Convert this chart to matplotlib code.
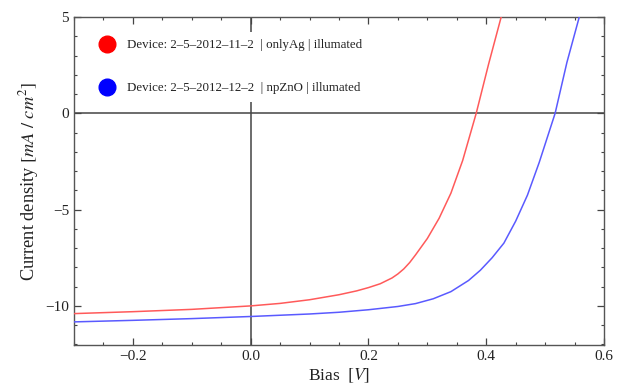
import matplotlib
matplotlib.use("Agg")
import matplotlib.pyplot as plt
from matplotlib.ticker import MultipleLocator, FixedLocator

plt.rcParams['font.family'] = ['Liberation Serif', 'DejaVu Serif']
plt.rcParams['mathtext.fontset'] = 'stix'

# Data
bias_red = [-0.30, -0.20, -0.10, 0.00, 0.05, 0.10, 0.15, 0.18, 0.20, 0.22, 0.24, 0.25, 0.26, 0.27, 0.28, 0.30, 0.32,
            0.34, 0.36, 0.383, 0.404, 0.426]
curr_red = [-10.40, -10.30, -10.18, -10.00, -9.87, -9.68, -9.42, -9.22, -9.05, -8.85, -8.55, -8.34, -8.08, -7.75, -7.35, -6.50, -5.45,
            -4.15, -2.45, 0.00, 2.55, 5.07]

bias_blue = [-0.30, -0.20, -0.10, 0.00, 0.10, 0.15, 0.20, 0.25, 0.28, 0.31, 0.34, 0.37, 0.39, 0.41, 0.43,
             0.45, 0.47, 0.49, 0.517, 0.537, 0.558]
curr_blue = [-10.83, -10.75, -10.66, -10.55, -10.42, -10.33, -10.20, -10.03, -9.88, -9.63, -9.26, -8.68, -8.15, -7.50, -6.74,
             -5.60, -4.25, -2.55, 0.00, 2.64, 5.00]

labels = ["Device: 2\u20135\u20132012\u201311\u20132  | onlyAg | illumated",
          "Device: 2\u20135\u20132012\u201312\u20132  | npZnO | illumated"]
colors = ["#ff5a5a", "#5a5aff"]
marker_colors = ["#ff0000", "#0000ff"]

x_major = [-0.2, 0.0, 0.2, 0.4, 0.6]
x_ticklabels = ["\u22120.2", "0.0", "0.2", "0.4", "0.6"]
y_major = [-10, -5, 0, 5]
y_ticklabels = ["\u221210", "\u22125", "0", "5"]

fig = plt.figure(figsize=(6.19, 3.89), dpi=100)
ax = fig.add_axes([74/619, 1-345/389, 530/619, 328/389])

ax.plot(bias_red, curr_red, color=colors[0], lw=1.1, zorder=3)
ax.plot(bias_blue, curr_blue, color=colors[1], lw=1.1, zorder=3)

ax.axhline(0, color="#444444", lw=1.1, zorder=2)
ax.axvline(0, color="#444444", lw=1.1, zorder=2)

ax.set_xlim(-0.3, 0.6)
ax.set_ylim(-12.03, 5)

ax.xaxis.set_major_locator(FixedLocator(x_major))
ax.set_xticklabels(x_ticklabels)
ax.xaxis.set_minor_locator(MultipleLocator(0.05))
ax.yaxis.set_major_locator(FixedLocator(y_major))
ax.set_yticklabels(y_ticklabels)
ax.yaxis.set_minor_locator(MultipleLocator(1))

ax.tick_params(which='both', direction='in', top=True, right=True, colors="#444444",
               labelcolor="#222222", labelsize=11)
ax.tick_params(which='major', length=5, width=0.9)
ax.tick_params(which='minor', length=2.5, width=0.8)
for s in ax.spines.values():
    s.set_color("#555555")
    s.set_linewidth(1.0)

ax.set_xlabel(r"Bias  $[V]$", fontsize=12.5, color="#222222", labelpad=3)
ax.set_ylabel(r"Current density $\left[ mA\ /\ cm^{2}\right]$", fontsize=13.2, color="#222222", labelpad=3)

handles = []
for c, lab in zip(marker_colors, labels):
    h, = ax.plot([], [], 'o', color=c, markersize=12, label=lab)
    handles.append(h)
leg = ax.legend(handles=handles, loc='upper left', bbox_to_anchor=(0.02, 0.975),
                frameon=True, facecolor='white', edgecolor='none', framealpha=1,
                fontsize=9.3, labelspacing=2.4, handletextpad=1.0, borderpad=0.6,
                handlelength=1.2)
leg.set_zorder(5)
for t in leg.get_texts():
    t.set_color("#222222")

fig.savefig("out.png", dpi=100)
